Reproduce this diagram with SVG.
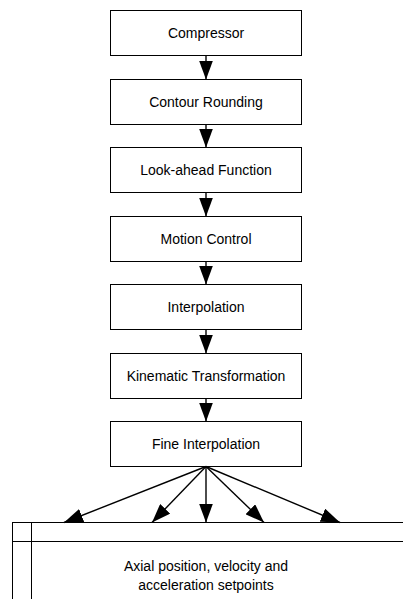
<svg xmlns="http://www.w3.org/2000/svg" width="403" height="599" viewBox="0 0 403 599">
  <style>
    .box { fill: #ffffff; stroke: #000000; stroke-width: 1; }
    .lbl { font-family: "Liberation Sans", Arial, sans-serif; font-size: 14px; fill: #000000; text-anchor: middle; }
    .edge { stroke: #000000; stroke-width: 1.4; fill: none; marker-end: url(#head); }
  </style>
  <defs>
    <!-- filled triangular arrowhead, tip at the end of the line -->
    <marker id="head" viewBox="0 0 19 14" refX="19" refY="7" markerWidth="19" markerHeight="14" markerUnits="userSpaceOnUse" orient="auto">
      <path d="M0,0 L19,7 L0,14 Z" fill="#000000"/>
    </marker>
  </defs>
  <rect width="403" height="599" fill="#ffffff"/>

  <g id="compressor">
    <rect class="box" x="110.5" y="10.5" width="191" height="45"/>
    <text class="lbl" x="206" y="38">Compressor</text>
  </g>
  <g id="contour-rounding">
    <rect class="box" x="110.5" y="79.5" width="191" height="45"/>
    <text class="lbl" x="206" y="107">Contour Rounding</text>
  </g>
  <g id="look-ahead">
    <rect class="box" x="110.5" y="147.5" width="191" height="45"/>
    <text class="lbl" x="206" y="175">Look-ahead Function</text>
  </g>
  <g id="motion-control">
    <rect class="box" x="110.5" y="216.5" width="191" height="45"/>
    <text class="lbl" x="206" y="244">Motion Control</text>
  </g>
  <g id="interpolation">
    <rect class="box" x="110.5" y="284.5" width="191" height="45"/>
    <text class="lbl" x="206" y="312">Interpolation</text>
  </g>
  <g id="kinematic-transformation">
    <rect class="box" x="110.5" y="353.5" width="191" height="45"/>
    <text class="lbl" x="206" y="381">Kinematic Transformation</text>
  </g>
  <g id="fine-interpolation">
    <rect class="box" x="110.5" y="421.5" width="191" height="45"/>
    <text class="lbl" x="206" y="449">Fine Interpolation</text>
  </g>
  <g id="setpoints">
    <rect class="box" x="12.5" y="522.5" width="400" height="90"/>
    <line x1="31.5" y1="522.5" x2="31.5" y2="599" stroke="#000000" stroke-width="1"/>
    <line x1="12.5" y1="541.5" x2="403" y2="541.5" stroke="#000000" stroke-width="1"/>
    <text class="lbl" x="206" y="571">Axial position, velocity and</text>
    <text class="lbl" x="206" y="590">acceleration setpoints</text>
  </g>

  <g id="connectors">
    <line class="edge" x1="206" y1="55.5" x2="206" y2="79.5"/>
    <line class="edge" x1="206" y1="124.5" x2="206" y2="147.5"/>
    <line class="edge" x1="206" y1="192.5" x2="206" y2="216.5"/>
    <line class="edge" x1="206" y1="261.5" x2="206" y2="284.5"/>
    <line class="edge" x1="206" y1="329.5" x2="206" y2="353.5"/>
    <line class="edge" x1="206" y1="398.5" x2="206" y2="421.5"/>
    <line class="edge" x1="206" y1="466.5" x2="64" y2="522.5"/>
    <line class="edge" x1="206" y1="466.5" x2="152" y2="522.5"/>
    <line class="edge" x1="206" y1="466.5" x2="206" y2="522.5"/>
    <line class="edge" x1="206" y1="466.5" x2="264" y2="522.5"/>
    <line class="edge" x1="206" y1="466.5" x2="340" y2="522.5"/>
  </g>
</svg>
